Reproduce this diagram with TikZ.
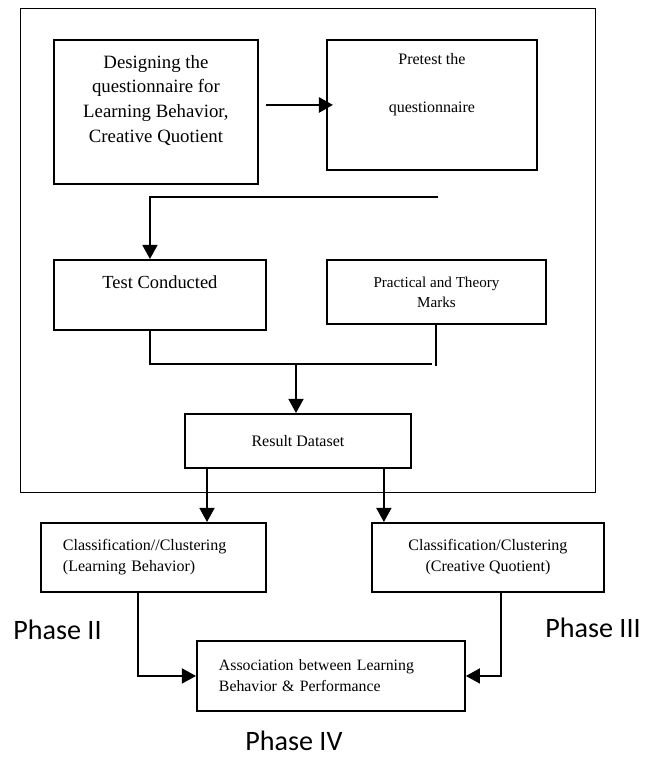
\documentclass[tikz,border=0pt]{standalone}
\usepackage{fontspec}
\setmainfont{Liberation Serif}
\newfontfamily\phasefont{Carlito}
\usepackage{tikz}
\usetikzlibrary{arrows.meta, positioning, calc}

\begin{document}
\begin{tikzpicture}[
  x=0.02cm, y=-0.02cm,
  box/.style={draw, line width=1.1pt, inner sep=0pt, anchor=north west},
  txt/.style={align=center, inner sep=0pt},
  arrow/.style={-{Triangle[length=8pt, width=8.5pt]}, line width=1.1pt},
  link/.style={line width=1.1pt},
  phase/.style={font=\phasefont\fontsize{16}{19}\selectfont, inner sep=0pt, anchor=base west}
]
  \useasboundingbox (0,0) rectangle (648,757);

  %% Phase I frame
  \node[box, line width=0.8pt, minimum width=11.5cm, minimum height=9.68cm] (frame) at (20,8) {};

  %% Questionnaire
  \node[box, minimum width=4.08cm, minimum height=2.88cm] (design) at (53,39) {};
  \node[txt, font=\fontsize{10.7}{14.2}\selectfont, at=(design.center), yshift=0.23cm] (design-txt)
    {Designing the\\questionnaire for\\Learning Behavior,\\Creative Quotient};

  \node[box, minimum width=4.2cm, minimum height=2.6cm] (pretest) at (326,39) {};
  \node[txt, font=\fontsize{9.1}{11}\selectfont, at=(pretest.center), yshift=0.4cm] (pretest-txt)
    {Pretest the\\[0.58cm]questionnaire};

  %% Test and marks
  \node[box, minimum width=4.24cm, minimum height=1.4cm] (test) at (53,259) {};
  \node[txt, font=\fontsize{10.5}{13}\selectfont, at=(test.center), yshift=0.26cm] (test-txt) {Test Conducted};

  \node[box, txt, anchor=north west, font=\fontsize{8.6}{11.4}\selectfont,
        minimum width=4.38cm, minimum height=1.28cm] (marks) at (326,259) {Practical and Theory\\Marks};

  %% Result
  \node[box, txt, anchor=north west, font=\fontsize{9.1}{12}\selectfont,
        minimum width=4.52cm, minimum height=1.08cm] (result) at (184,413) {Result Dataset};

  %% Phase II / III
  \node[box, align=left, text width=3.62cm, inner xsep=0.44cm, font=\fontsize{9.1}{12}\selectfont,
        minimum width=4.5cm, minimum height=1.38cm] (classA) at (40,522)
    {Classification//Clustering\\(Learning Behavior)};
  \node[box, txt, anchor=north west, font=\fontsize{9.1}{12}\selectfont,
        minimum width=4.64cm, minimum height=1.38cm] (classB) at (371,522)
    {Classification/Clustering\\(Creative Quotient)};

  %% Phase IV
  \node[box, align=left, text width=4.48cm, inner xsep=0.44cm, font=\fontsize{9}{12}\selectfont,
        minimum width=5.36cm, minimum height=1.4cm] (assoc) at (196,640)
    {Association between Learning\\Behavior \& Performance};

  %% Arrows
  \draw[arrow, line width=1.6pt, shorten <=0.14cm, shorten >=-0.14cm] (design.east |- pretest.west) -- (pretest.west);
  \coordinate (loose) at (438,197);
  \draw[arrow] (loose) -| ($(test.north)+(-10,0)$);
  \coordinate (join) at (296,364);
  \coordinate (joinR) at (432,364);
  \draw[link] ($(test.south)+(-10,0)$) |- (joinR);
  \draw[link] (marks.south) -- ($(marks.south |- join)+(0,2)$);
  \draw[arrow] (join) -- (join |- result.north);
  \draw[arrow] ($(result.south west)+(23,0)$) coordinate (ra) -- (ra |- classA.north);
  \draw[arrow] ($(result.south east)+(-28,0)$) coordinate (rb) -- (rb |- classB.north);
  \draw[arrow] ($(classA.south west)+(98,0)$) |- (assoc.west);
  \draw[arrow] ($(classB.south west)+(130,0)$) |- (assoc.east);

  %% Labels
  \node[phase] (phaseII) at (13,639) {Phase II};
  \node[phase] (phaseIII) at (545,637) {Phase III};
  \node[phase] (phaseIV) at (245,750) {Phase IV};
\end{tikzpicture}
\end{document}
